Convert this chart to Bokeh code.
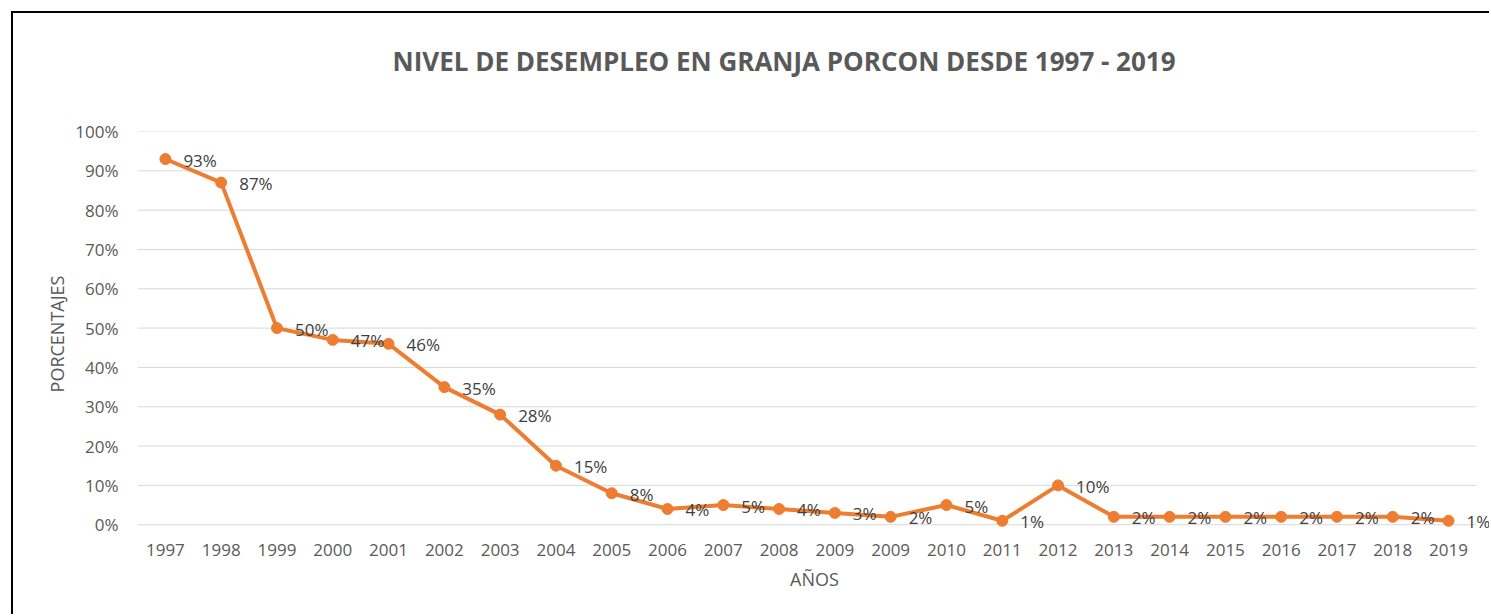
from bokeh.plotting import figure
from bokeh.models import (ColumnDataSource, Range1d, FixedTicker, NumeralTickFormatter,
                          LabelSet, Title)
from bokeh.core.properties import value
from bokeh.embed import file_html
from bokeh.resources import INLINE

years = ["1997", "1998", "1999", "2000", "2001", "2002", "2003", "2004", "2005",
         "2006", "2007", "2008", "2009", "2009", "2010", "2011", "2012", "2013",
         "2014", "2015", "2016", "2017", "2018", "2019"]
desempleo_pct = [93, 87, 50, 47, 46, 35, 28, 15, 8, 4, 5, 4, 3, 2, 5, 1, 10,
                 2, 2, 2, 2, 2, 2, 1]
y_ticks_pct = [0, 10, 20, 30, 40, 50, 60, 70, 80, 90, 100]

title_text = "NIVEL DE DESEMPLEO EN GRANJA PORCON DESDE 1997 - 2019"
x_label = "AÑOS"
y_label = "PORCENTAJES"

n = len(years)
idx = list(range(n))
src = ColumnDataSource(data=dict(
    x=idx,
    y=[v / 100 for v in desempleo_pct],
    lab=[f"{v}%" for v in desempleo_pct],
))
yt = [t / 100 for t in y_ticks_pct]
grid_src = ColumnDataSource(data=dict(
    x0=[-0.5] * len(yt), x1=[n - 0.5] * len(yt), y=yt))

FONT = "Open Sans"
ORANGE = "#ED7D31"
GRAY = "#595959"

p = figure(width=1478, height=603, output_backend="svg", toolbar_location=None,
           title=None,
           x_range=Range1d(-0.5, n - 0.5 + 0.27), y_range=Range1d(-0.03, 1),
           min_border_left=124, min_border_right=0, min_border_top=118,
           min_border_bottom=80)
p.styles = {"border-top": "2px solid #000", "border-left": "2px solid #000",
            "margin-left": "11px", "margin-top": "11px"}

spacer = Title(text=" ", text_font=FONT, text_font_size="10px", standoff=37)
p.add_layout(spacer, "above")
main_title = Title(text=title_text, align="left", offset=255, standoff=0,
                   text_font=FONT, text_font_size="26px", text_font_style="bold",
                   text_color=GRAY)
p.add_layout(main_title, "above")

p.outline_line_color = None
p.background_fill_color = "white"
p.border_fill_color = "white"

p.xgrid.grid_line_color = None
p.ygrid.grid_line_color = None

p.xaxis.ticker = FixedTicker(ticks=idx)
p.xaxis.major_label_overrides = {i: y for i, y in enumerate(years)}
p.yaxis.ticker = FixedTicker(ticks=yt)
p.yaxis.formatter = NumeralTickFormatter(format="0%")

for ax in (p.xaxis[0], p.yaxis[0]):
    ax.axis_line_color = None
    ax.major_tick_line_color = None
    ax.minor_tick_line_color = None
    ax.major_tick_out = 0
    ax.major_tick_in = 0
    ax.major_label_text_font = FONT
    ax.major_label_text_font_size = "17px"
    ax.major_label_text_color = GRAY
    ax.axis_label_text_font = FONT
    ax.axis_label_text_font_size = "18px"
    ax.axis_label_text_font_style = "normal"
    ax.axis_label_text_color = GRAY

p.xaxis.axis_label = x_label
p.yaxis.axis_label = y_label
p.xaxis.major_label_standoff = 7
p.xaxis.axis_label_standoff = 8
p.yaxis.major_label_standoff = 19
p.yaxis.axis_label_standoff = 3

p.segment(x0="x0", y0="y", x1="x1", y1="y", source=grid_src,
          line_color="#d9d9d9", line_width=1)
p.line("x", "y", source=src, line_color=ORANGE, line_width=4)
p.scatter("x", "y", source=src, size=11, fill_color=ORANGE, line_color=ORANGE)
labels = LabelSet(x="x", y="y", text="lab", source=src, x_offset=18, y_offset=-1,
                  text_baseline="middle", text_align="left",
                  text_font=value(FONT), text_font_size="17px", text_color="#404040")
p.add_layout(labels)

open("out.html", "w").write(file_html(p, INLINE))
